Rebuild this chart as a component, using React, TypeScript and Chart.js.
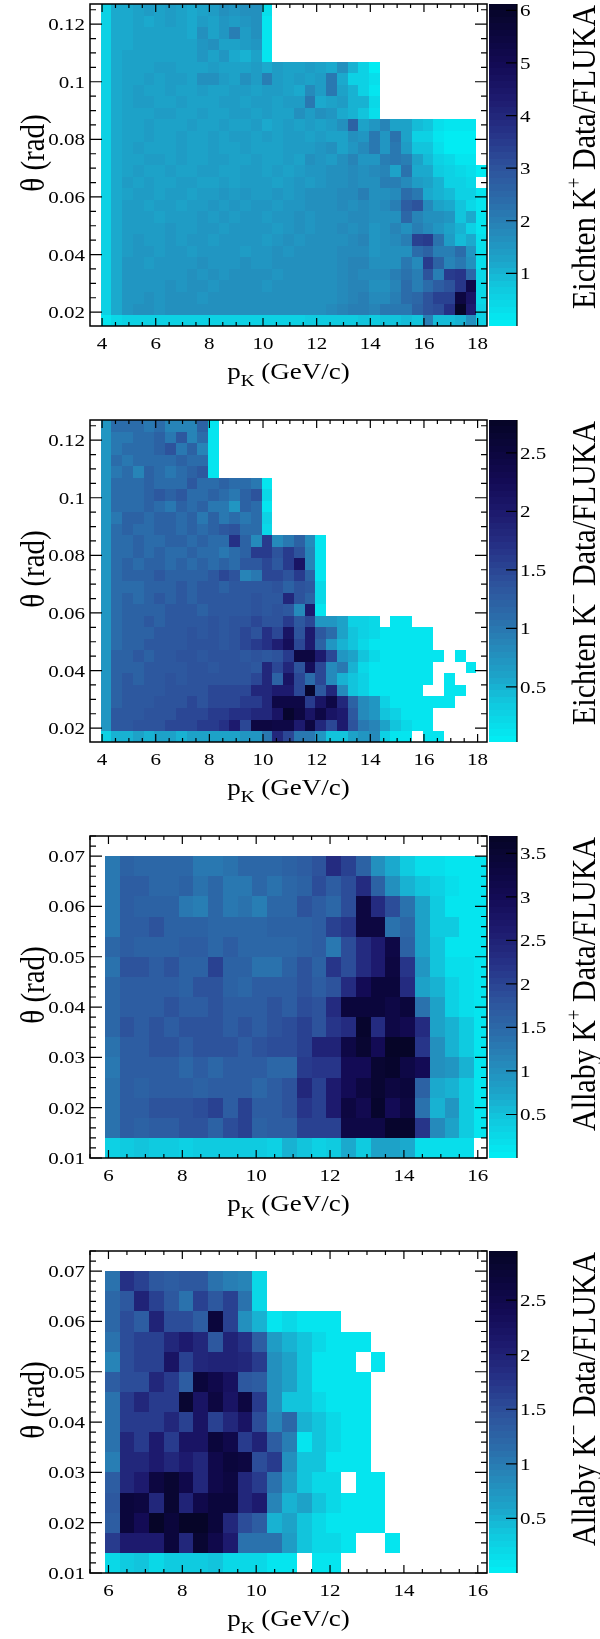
import { useEffect, useRef } from "react"
import { Chart, registerables } from "chart.js"

Chart.register(...registerables)

const FONT = "'Liberation Serif', 'Times New Roman', serif"
// the reference text is drawn a little wider than the font
const TEXT_STRETCH = 1.2
const ROT_STRETCH = 1.15

// one character per bin, value = index * 0.1, "." = empty bin
const LEVELS = "0123456789abcdefghijklmnopqrstuvwxyzABCDEFGHIJKLMNOPQRSTUVWXYZ"

// Eichten binning (p in GeV/c, theta in rad)
const eichtenPStart = 3.95
const eichtenPWidth = 0.4
const eichtenThetaStart = 0.015
const eichtenThetaWidth = 0.004
const eichtenPTicks = [4, 6, 8, 10, 12, 14, 16, 18]
const eichtenThetaTicks = [0.02, 0.04, 0.06, 0.08, 0.1, 0.12]

// Allaby binning
const allabyPStart = 5.9
const allabyPWidth = 0.4
const allabyThetaStart = 0.01
const allabyThetaWidth = 0.004
const allabyPTicks = [6, 8, 10, 12, 14, 16]
const allabyThetaTicks = [0.01, 0.02, 0.03, 0.04, 0.05, 0.06, 0.07]

const eichtenKPlusZTicks = [1, 2, 3, 4, 5, 6]
const eichtenKMinusZTicks = [0.5, 1, 1.5, 2, 2.5]
const allabyKPlusZTicks = [0.5, 1, 1.5, 2, 2.5, 3, 3.5]
const allabyKMinusZTicks = [0.5, 1, 1.5, 2, 2.5]

// rows go from the highest theta bin (top) to the lowest
const eichtenKPlus = [
  "6ccdededcdegfgh3",
  "6ccdcdedcedfefg2",
  "6ccdddddcgdfkeg2",
  "6ccddddddfgddef2",
  "6cdddddddfdfcbd2",
  "6cdddeedddedddeceddedcha51",
  "6cddedeedggedgekededemc663",
  "6cdeddeddeddeedeedciemda62",
  "6cdeeddedddeedeedeemcdeaa4",
  "6cdddeeddeddeededdhegfca83",
  "6cddedddeddeddecdededegqdfjdd983222",
  "6cddeddeddedeededeededdgfmfnd662111",
  "6cdedddeddeddedddeeefhdfimfme883111",
  "6cddeededdeeddeddedhfegjffklkd95422",
  "6cdeddeddeeddeededeffghigijdncc75431",
  "6cededdeeddedeeedefefghihgkkiedb654",
  "6cdeedeedeefefeefefgghiikggiomca9652",
  "6ceedeedeefefeffeffgghihigiksuidc842",
  "6ceeedeeefefeffeffgfghhiigghpjhgf8c2",
  "6ceeeefeeffeffffefgfghihifgjhkifda62",
  "6cefeefeffeffffefgfgghhijfgikyzne9c3",
  "6ceffeffeffffeffgfgghhiiifghhoqkkof3",
  "6cffeffffgfffgffgggghhijjhghmizqjmg3",
  "6cffffffgfgfggggfgghghijiiiknkukzAp4",
  "6cffffgfggfggggfgghghhijjhhjokosuAQ4",
  "6cffgfgggfggggggghghhhijkiikopuyySK4",
  "6cfggfgggghgghgghhhhhijkkjmmmquvBYI5",
  "245555556566666666677777878898k99ag6",
]

const eichtenKMinus = [
  "7bbbab999c1",
  "7aabbcad9b1",
  "7abbbceac91",
  "7babbbbcbb1",
  "7ab9cbabcd1",
  "7bbbcbbbdbbcbba1",
  "7bbbcdcdbbcbace2",
  "7bbbcbacbcaa7cb1",
  "7accbccbcacabab3",
  "7bcbbccbcbcdebb2",
  "7bbcbbccbcbbhc8g8ac81",
  "7bbcbcbbcbbabcggege91",
  "7bcbccbcbcbcbddfdgl91",
  "7bcccdccccdfe9affegc1",
  "7bbbcccdcddcddddeced2",
  "7bcbcdcdcdddddeddiec2",
  "7bccccdddcddddeded8k1",
  "7bccdcddddedeefeegdf776332.11",
  "7bcccdddededefehflekdb643211111",
  "7bccddddeeedefghjmfkc7542111111",
  "7ccdcddeedeeededegppkf7642111111.1",
  "7cccddddeedeeedifiemf8a52111111...1",
  "7cdcddedeeeeeeficlfbf8543111111.1",
  "7cddddeeeeffffiikkfrdi84311111..11",
  "7cdddeeefefffggiooogloic873111111",
  "7dddeeefffgghhiilrplolkd8743111",
  "7ddeeefffgghkfppookpifkea964211",
  "355656656666677aifaa744678311.11",
]

const allabyKPlus = [
  "dgffffddefffghinkga7422111",
  "dhhffgefddfefgjhjnga653211",
  "dhgggdcfdecffihfjxnje84111",
  "dhhigggffffggghkmxxef84411",
  "fhggghhfhffffghdjnqwg85111",
  "eiihiggkggeegigmjnqxm95221",
  "fhhhhgiigfhhhihinuyyn86321",
  "fhhhihhihhhihjinyyywye8321",
  "fihihiiihihijkimnAnwvn8641",
  "ehhiihiiihijjkppwzuBBma641",
  "dhhhhfhfhhhfflmmuuzAwua961",
  "ehghhhghhhfhiokquxzxyg7641",
  "ehhiiijkhkhhimkqxvAuxe6941",
  "ehghhiigjkghhkkkwwwAAmb841",
  "3454434444436534748872222",
]

const allabyKMinus = [
  "bigedeeba92",
  "cekgebgegb2",
  "cfdkffdrg8512111",
  "bfggjljekid7542111",
  "9fggmgjkkjh864111.1",
  "dffjhdrpned8641111",
  "bhjhhsmqmqh8442111",
  "bhhhjgmgjmf9c54211",
  "bjhlhmmrphkda14211",
  "ajjljljprqfh844111",
  "djlqspjpqjhb7422.11",
  "erqjskprrjl95642111",
  "drotrttrjfd56421111",
  "hlllrjsplbbb74221..1",
  "2342333422211.11",
]

// palette: cyan at the bottom of the colour scale, deep navy at the top
const paletteStops: [number, number, number, number][] = [
  [0.0, 0, 240, 245],
  [0.05, 8, 222, 235],
  [0.12, 16, 200, 222],
  [0.2, 28, 165, 202],
  [0.3, 38, 135, 185],
  [0.4, 44, 105, 168],
  [0.5, 45, 80, 155],
  [0.6, 38, 50, 135],
  [0.7, 30, 28, 112],
  [0.8, 20, 12, 88],
  [0.9, 12, 6, 62],
  [1.0, 5, 5, 38],
]
const N_CONTOURS = 50

function paletteColor(f: number) {
  const t = Math.min(1, Math.max(0, f))
  for (let i = 1; i < paletteStops.length; i++) {
    const [f1, r1, g1, b1] = paletteStops[i]
    if (t <= f1) {
      const [f0, r0, g0, b0] = paletteStops[i - 1]
      const k = (t - f0) / (f1 - f0)
      return `rgb(${Math.round(r0 + (r1 - r0) * k)},${Math.round(g0 + (g1 - g0) * k)},${Math.round(b0 + (b1 - b0) * k)})`
    }
  }
  return "rgb(5,5,38)"
}

function bandColor(v: number, zMin: number, zMax: number) {
  let i = Math.floor(((v - zMin) / (zMax - zMin)) * N_CONTOURS)
  i = Math.max(0, Math.min(N_CONTOURS - 1, i))
  return paletteColor((i + 0.5) / N_CONTOURS)
}

interface Cell {
  x: number
  y: number
  v: number
}

function buildCells(rows: string[], pStart: number, pWidth: number, thetaStart: number, thetaWidth: number) {
  const cells: Cell[] = []
  rows.forEach((row, r) => {
    const thetaLow = thetaStart + (rows.length - 1 - r) * thetaWidth
    for (let c = 0; c < row.length; c++) {
      const level = LEVELS.indexOf(row[c])
      if (level < 0) continue
      cells.push({ x: pStart + (c + 0.5) * pWidth, y: thetaLow + thetaWidth / 2, v: level * 0.1 })
    }
  })
  return cells
}

interface PanelSpec {
  cells: Cell[]
  pWidth: number
  thetaWidth: number
  xMin: number
  xMax: number
  yMin: number
  yMax: number
  xTicks: number[]
  yTicks: number[]
  xMinor: number
  yMinor: number
  zMin: number
  zMax: number
  zTicks: number[]
  zTitle: [string, string, string]
  top: number
  height: number
}

const panels: PanelSpec[] = [
  {
    cells: buildCells(eichtenKPlus, eichtenPStart, eichtenPWidth, eichtenThetaStart, eichtenThetaWidth),
    pWidth: eichtenPWidth,
    thetaWidth: eichtenThetaWidth,
    xMin: 3.55, xMax: 18.35, yMin: 0.0152, yMax: 0.127,
    xTicks: eichtenPTicks, yTicks: eichtenThetaTicks, xMinor: 0.5, yMinor: 0.005,
    zMin: 0, zMax: 6.12, zTicks: eichtenKPlusZTicks,
    zTitle: ["Eichten K", "+", " Data/FLUKA"],
    top: 0, height: 416,
  },
  {
    cells: buildCells(eichtenKMinus, eichtenPStart, eichtenPWidth, eichtenThetaStart, eichtenThetaWidth),
    pWidth: eichtenPWidth,
    thetaWidth: eichtenThetaWidth,
    xMin: 3.55, xMax: 18.35, yMin: 0.0152, yMax: 0.127,
    xTicks: eichtenPTicks, yTicks: eichtenThetaTicks, xMinor: 0.5, yMinor: 0.005,
    zMin: 0.03, zMax: 2.78, zTicks: eichtenKMinusZTicks,
    zTitle: ["Eichten K", "\u2212", " Data/FLUKA"],
    top: 416, height: 416,
  },
  {
    cells: buildCells(allabyKPlus, allabyPStart, allabyPWidth, allabyThetaStart, allabyThetaWidth),
    pWidth: allabyPWidth,
    thetaWidth: allabyThetaWidth,
    xMin: 5.5, xMax: 16.25, yMin: 0.01, yMax: 0.074,
    xTicks: allabyPTicks, yTicks: allabyThetaTicks, xMinor: 0.5, yMinor: 0.002,
    zMin: 0, zMax: 3.7, zTicks: allabyKPlusZTicks,
    zTitle: ["Allaby K", "+", " Data/FLUKA"],
    top: 832, height: 415,
  },
  {
    cells: buildCells(allabyKMinus, allabyPStart, allabyPWidth, allabyThetaStart, allabyThetaWidth),
    pWidth: allabyPWidth,
    thetaWidth: allabyThetaWidth,
    xMin: 5.5, xMax: 16.25, yMin: 0.01, yMax: 0.074,
    xTicks: allabyPTicks, yTicks: allabyThetaTicks, xMinor: 0.5, yMinor: 0.002,
    zMin: 0, zMax: 2.95, zTicks: allabyKMinusZTicks,
    zTitle: ["Allaby K", "\u2212", " Data/FLUKA"],
    top: 1247, height: 392,
  },
]

function drawText(ctx: CanvasRenderingContext2D, text: string, x: number, y: number, size: number, align: CanvasTextAlign) {
  ctx.save()
  ctx.font = `${size}px ${FONT}`
  ctx.textAlign = align
  ctx.textBaseline = "alphabetic"
  ctx.translate(x, y)
  ctx.scale(TEXT_STRETCH, 1)
  ctx.fillText(text, 0, 0)
  ctx.restore()
}

function minorValues(min: number, max: number, step: number, majors: number[]) {
  const out: number[] = []
  for (let k = Math.ceil(min / step - 1e-6); k * step <= max + 1e-9; k++) {
    const v = k * step
    if (!majors.some((m) => Math.abs(m - v) < step * 1e-3)) out.push(v)
  }
  return out
}

function makePlugin(spec: PanelSpec) {
  return {
    id: "root2d",
    afterDraw(chart: Chart) {
      const ctx = chart.ctx
      const xs = chart.scales.x
      const ys = chart.scales.y
      const zs = chart.scales.z
      const { left, right, top, bottom } = chart.chartArea
      const cells = chart.data.datasets[0].data as unknown as Cell[]

      // cells
      ctx.save()
      ctx.beginPath()
      ctx.rect(left, top, right - left, bottom - top)
      ctx.clip()
      for (const c of cells) {
        const x0 = Math.round(xs.getPixelForValue(c.x - spec.pWidth / 2))
        const x1 = Math.round(xs.getPixelForValue(c.x + spec.pWidth / 2))
        const y0 = Math.round(ys.getPixelForValue(c.y + spec.thetaWidth / 2))
        const y1 = Math.round(ys.getPixelForValue(c.y - spec.thetaWidth / 2))
        ctx.fillStyle = bandColor(c.v, spec.zMin, spec.zMax)
        ctx.fillRect(x0, y0, x1 - x0, y1 - y0)
      }
      ctx.restore()

      ctx.save()
      ctx.strokeStyle = "#000"
      ctx.fillStyle = "#000"

      // frame
      ctx.lineWidth = 1.5
      ctx.strokeRect(left, top, right - left, bottom - top)

      // ticks on all four sides, pointing inwards
      ctx.lineWidth = 1.2
      ctx.beginPath()
      const xTick = (v: number, len: number) => {
        const px = xs.getPixelForValue(v)
        if (px < left - 0.5 || px > right + 0.5) return
        ctx.moveTo(px, bottom)
        ctx.lineTo(px, bottom - len)
        ctx.moveTo(px, top)
        ctx.lineTo(px, top + len)
      }
      const yTick = (v: number, len: number) => {
        const py = ys.getPixelForValue(v)
        if (py < top - 0.5 || py > bottom + 0.5) return
        ctx.moveTo(left, py)
        ctx.lineTo(left + len, py)
        ctx.moveTo(right, py)
        ctx.lineTo(right - len, py)
      }
      spec.xTicks.forEach((v) => xTick(v, 8))
      minorValues(spec.xMin, spec.xMax, spec.xMinor, spec.xTicks).forEach((v) => xTick(v, 4))
      spec.yTicks.forEach((v) => yTick(v, 12))
      minorValues(spec.yMin, spec.yMax, spec.yMinor, spec.yTicks).forEach((v) => yTick(v, 6))
      ctx.stroke()

      // tick labels
      spec.xTicks.forEach((v) => drawText(ctx, String(v), xs.getPixelForValue(v), bottom + 22.5, 17.5, "center"))
      spec.yTicks.forEach((v) => drawText(ctx, String(v), left - 5, ys.getPixelForValue(v) + 6, 17.5, "right"))

      // x title: p_K (GeV/c)
      {
        const big = 22.5
        const small = 16
        ctx.save()
        ctx.font = `${big}px ${FONT}`
        const wP = ctx.measureText("p").width
        const wRest = ctx.measureText(" (GeV/c)").width
        ctx.font = `${small}px ${FONT}`
        const wK = ctx.measureText("K").width
        const total = (wP + wK + wRest) * TEXT_STRETCH
        ctx.translate((left + right) / 2 - total / 2, bottom + 52.5)
        ctx.scale(TEXT_STRETCH, 1)
        ctx.textAlign = "left"
        ctx.textBaseline = "alphabetic"
        ctx.font = `${big}px ${FONT}`
        ctx.fillText("p", 0, 0)
        ctx.font = `${small}px ${FONT}`
        ctx.fillText("K", wP, 7.5)
        ctx.font = `${big}px ${FONT}`
        ctx.fillText(" (GeV/c)", wP + wK, 0)
        ctx.restore()
      }

      // y title
      ctx.save()
      ctx.translate(44, (top + bottom) / 2 - 12)
      ctx.rotate(-Math.PI / 2)
      ctx.scale(1, ROT_STRETCH)
      ctx.font = `29px ${FONT}`
      ctx.textAlign = "center"
      ctx.textBaseline = "alphabetic"
      ctx.fillText("\u03b8 (rad)", 0, 0)
      ctx.restore()

      // colour bar
      const cbL = 489
      const cbR = 517
      for (let i = 0; i < N_CONTOURS; i++) {
        const lo = spec.zMin + ((spec.zMax - spec.zMin) * i) / N_CONTOURS
        const hi = spec.zMin + ((spec.zMax - spec.zMin) * (i + 1)) / N_CONTOURS
        const y0 = Math.round(zs.getPixelForValue(hi))
        const y1 = Math.round(zs.getPixelForValue(lo))
        ctx.fillStyle = paletteColor((i + 0.5) / N_CONTOURS)
        ctx.fillRect(cbL, y0, cbR - cbL, y1 - y0)
      }
      ctx.fillStyle = "#000"
      ctx.lineWidth = 1.2
      ctx.beginPath()
      ctx.moveTo(cbR, top)
      ctx.lineTo(cbR, bottom)
      spec.zTicks.forEach((v) => {
        const py = zs.getPixelForValue(v)
        ctx.moveTo(cbR - 11, py)
        ctx.lineTo(cbR, py)
      })
      ctx.stroke()
      spec.zTicks.forEach((v) => drawText(ctx, String(v), 520, zs.getPixelForValue(v) + 6, 17.5, "left"))

      // z title, rotated, ending at the top of the axis
      {
        const size = 30
        const sup = 19
        ctx.save()
        ctx.font = `${size}px ${FONT}`
        const w1 = ctx.measureText(spec.zTitle[0]).width
        const w3 = ctx.measureText(spec.zTitle[2]).width
        ctx.font = `${sup}px ${FONT}`
        const w2 = ctx.measureText(spec.zTitle[1]).width
        const total = w1 + w2 + w3
        ctx.translate(595, top + 1)
        ctx.rotate(-Math.PI / 2)
        ctx.scale(1, ROT_STRETCH)
        ctx.textAlign = "left"
        ctx.textBaseline = "alphabetic"
        ctx.font = `${size}px ${FONT}`
        ctx.fillText(spec.zTitle[0], -total, 0)
        ctx.font = `${sup}px ${FONT}`
        ctx.fillText(spec.zTitle[1], -total + w1, -12)
        ctx.font = `${size}px ${FONT}`
        ctx.fillText(spec.zTitle[2], -total + w1 + w2, 0)
        ctx.restore()
      }

      ctx.restore()
    },
  }
}

function HeatPanel({ spec }: { spec: PanelSpec }) {
  const canvasRef = useRef<HTMLCanvasElement>(null)

  useEffect(() => {
    if (!canvasRef.current) return
    const chart = new Chart(canvasRef.current, {
      type: "scatter",
      data: {
        datasets: [
          {
            data: spec.cells as any,
            pointRadius: 0,
            pointHoverRadius: 0,
          },
        ],
      },
      options: {
        animation: false,
        responsive: false,
        devicePixelRatio: 1,
        events: [],
        layout: { padding: { left: 90, right: 113, top: 4, bottom: spec.height - 326 } },
        plugins: { legend: { display: false }, tooltip: { enabled: false } },
        scales: {
          x: { type: "linear", min: spec.xMin, max: spec.xMax, display: false },
          y: { type: "linear", min: spec.yMin, max: spec.yMax, display: false },
          z: { type: "linear", axis: "y", position: "right", min: spec.zMin, max: spec.zMax, display: false },
        },
      },
      plugins: [makePlugin(spec) as any],
    })
    return () => chart.destroy()
  }, [spec])

  return (
    <canvas
      ref={canvasRef}
      width={600}
      height={spec.height}
      style={{ position: "absolute", left: 0, top: spec.top, width: 600, height: spec.height, display: "block" }}
    />
  )
}

export default function App() {
  return (
    <div style={{ position: "absolute", left: 0, top: 0, width: 600, height: 1639, background: "#fff" }}>
      {panels.map((p, i) => (
        <HeatPanel key={i} spec={p} />
      ))}
    </div>
  )
}
